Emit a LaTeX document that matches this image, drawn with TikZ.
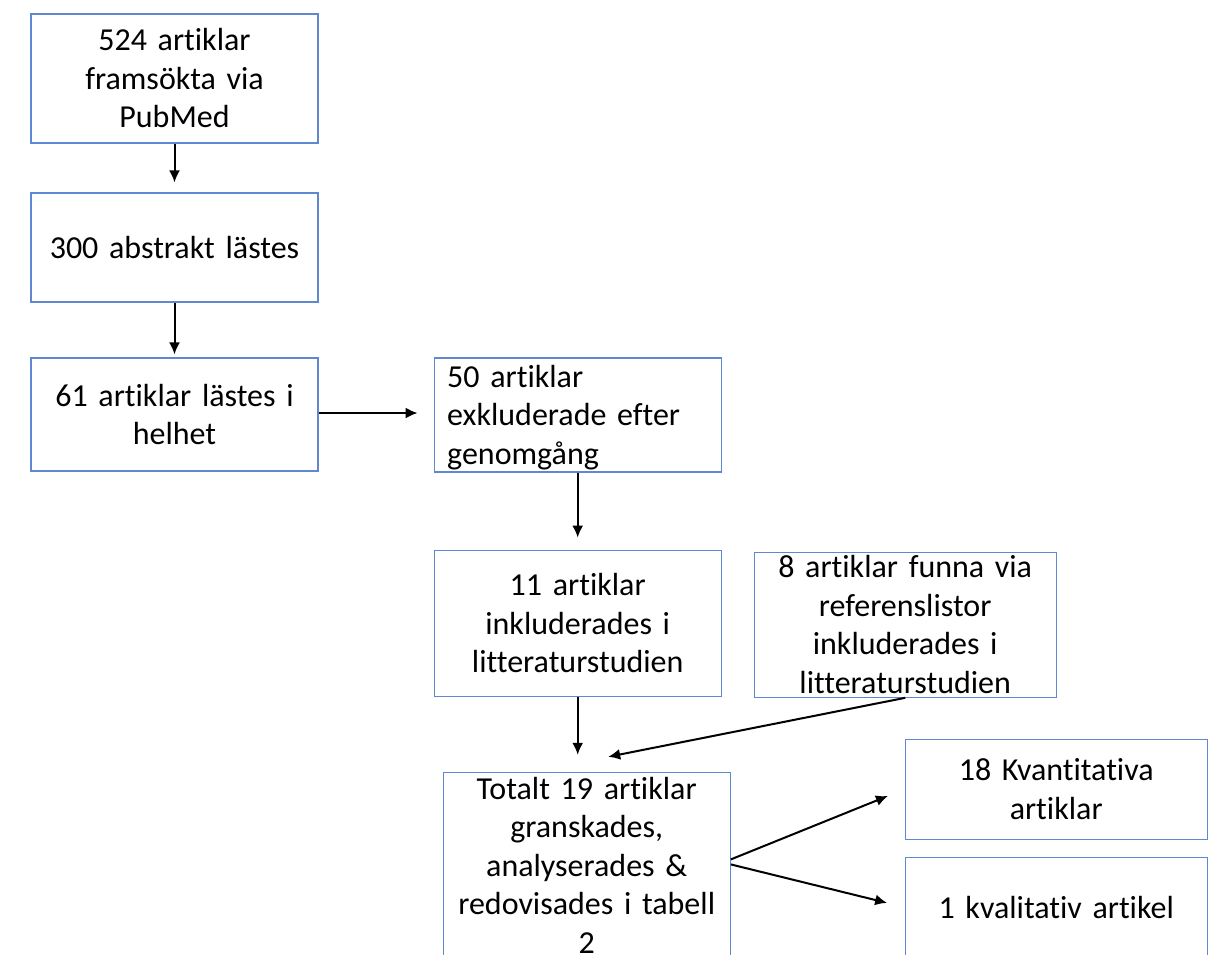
\documentclass[tikz,border=0pt]{standalone}
\usepackage{fontspec}
\setmainfont{Carlito}[Ligatures=CommonOff]
\usetikzlibrary{calc,arrows.meta}
\definecolor{boxblue}{RGB}{96,136,210}

\begin{document}
\begin{tikzpicture}[x=0.5pt,y=-0.5pt,stage/.style={draw=boxblue,line width=0.6pt,align=center,inner xsep=0pt,inner ysep=0pt,text width=143.5pt,font=\fontsize{16}{19.25}\selectfont},wide/.style={stage,text width=151pt},arrow/.style={-{Latex[length=6pt,width=5.5pt]},line width=1pt}]
  \useasboundingbox (0,0) rectangle (1209,954);
  \clip (0,0) rectangle (1209,954);
  \node[stage,minimum height=64.5pt] (search) at (174.5,78.5) {524 artiklar\\framsökta via\\PubMed};
  \node[stage,minimum height=54.5pt] (abstracts) at ($ (search) + (0,169) $) {300 abstrakt lästes};
  \node[stage,minimum height=56.5pt] (fulltext) at ($ (abstracts) + (0,167) $) {61 artiklar lästes i\\helhet};
  \node[stage,align=left,anchor=north west,inner xsep=6.5pt,text width=130.5pt,text height=14.5pt,text depth=42.5pt] (excluded) at ($ (fulltext.north east) + (115,0) $) {50 artiklar\\exkluderade efter\\genomgång};
  \node[stage,anchor=north,minimum height=73pt] (included) at ($ (excluded.south) + (0,77) $) {11 artiklar\\inkluderades i\\litteraturstudien};
  \node[wide,minimum height=72.5pt] (reflists) at ($ (included) + (327.5,1.5) $) {8 artiklar funna via\\referenslistor\\inkluderades i\\litteraturstudien};
  \node[stage,anchor=north,inner ysep=1.5pt,text height=12pt,text depth=85pt] (total) at ($ (included.south) + (9,75) $) {Totalt 19 artiklar\\granskades,\\analyserades \&\\redovisades i tabell\\2};
  \node[wide,minimum height=50pt] (quant) at ($ (reflists) + (151,164.5) $) {18 Kvantitativa\\artiklar};
  \node[wide,minimum height=50pt] (qual) at ($ (quant) + (0,118) $) {1 kvalitativ artikel};
  \draw[arrow,shorten >=5pt] (search) -- (abstracts);
  \draw[arrow,shorten >=1.5pt] (abstracts) -- (fulltext);
  \draw[arrow,shorten >=8pt] ([yshift=0.75pt]fulltext.east) -- ([yshift=0.75pt]fulltext.east -| excluded.west);
  \draw[arrow,shorten >=6pt] (excluded) -- (included);
  \draw[arrow,shorten >=8.5pt] (included.south) -- (included.south |- total.north);
  \draw[arrow] (reflists.south) -- ($ (total.north) + (21.5,-15) $);
  \draw[arrow,shorten >=9pt] ([yshift=6.5pt]total.east) -- (quant.west);
  \draw[arrow,shorten >=9pt] ([yshift=4pt]total.east) -- (qual.west);
\end{tikzpicture}
\end{document}
